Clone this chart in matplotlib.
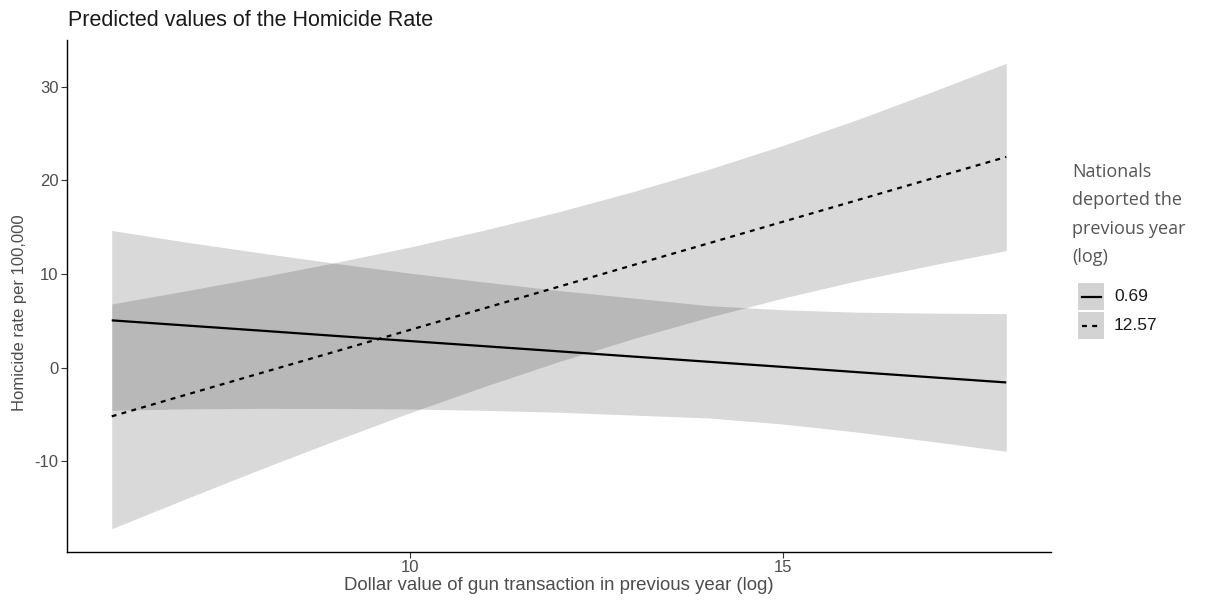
import matplotlib.pyplot as plt
from matplotlib.patches import Rectangle
from matplotlib.lines import Line2D

plt.rcParams['axes.unicode_minus'] = False

# Predictor grid (dollar value of gun transactions, log)
gun_value = [6, 7, 8, 9, 10, 11, 12, 13, 14, 15, 16, 17, 18]

# Deported nationals = 0.69 (log)
pred_low_dep = [5.05, 4.50, 3.95, 3.39, 2.84, 2.29, 1.74, 1.18, 0.63, 0.08, -0.48, -1.03, -1.58]
ci_lo_low_dep = [-4.55, -4.40, -4.35, -4.36, -4.41, -4.56, -4.76, -5.07, -5.37, -6.02, -6.88, -7.88, -8.93]
ci_hi_low_dep = [14.65, 13.40, 12.25, 11.14, 10.09, 9.14, 8.24, 7.43, 6.63, 6.18, 5.92, 5.82, 5.77]

# Deported nationals = 12.57 (log)
pred_high_dep = [-5.20, -2.89, -0.58, 1.72, 4.03, 6.34, 8.65, 10.96, 13.26, 15.57, 17.88, 20.19, 22.50]
ci_lo_high_dep = [-17.20, -13.99, -10.83, -7.78, -4.82, -2.01, 0.65, 3.11, 5.36, 7.42, 9.28, 10.94, 12.50]
ci_hi_high_dep = [6.80, 8.21, 9.67, 11.22, 12.88, 14.69, 16.65, 18.81, 21.16, 23.72, 26.48, 29.44, 32.50]

legend_labels = ['0.69', '12.57']
legend_title = ['Nationals', 'deported the', 'previous year', '(log)']
x_ticks = [10, 15]
y_ticks = [-10, 0, 10, 20, 30]

W, H = 1224, 606
fig = plt.figure(figsize=(W / 100, H / 100), dpi=100)


def fpos(px, py):
    return px / W, 1 - py / H


ax_l, ax_r, ax_t, ax_b = 67, 1051, 40, 552
ax = fig.add_axes([ax_l / W, 1 - ax_b / H, (ax_r - ax_l) / W, (ax_b - ax_t) / H])

ax.fill_between(gun_value, ci_lo_low_dep, ci_hi_low_dep, color='black', alpha=0.15, linewidth=0)
ax.fill_between(gun_value, ci_lo_high_dep, ci_hi_high_dep, color='black', alpha=0.15, linewidth=0)
ax.plot(gun_value, pred_low_dep, color='black', linewidth=1.6, solid_capstyle='butt')
ax.plot(gun_value, pred_high_dep, color='black', linewidth=1.6, linestyle=(0, (2.2, 2.4)),
        dash_capstyle='butt')

# 5% expansion around the data range
xmin, xmax = min(gun_value), max(gun_value)
ymin, ymax = min(ci_lo_high_dep + ci_lo_low_dep), max(ci_hi_high_dep + ci_hi_low_dep)
dx, dy = (xmax - xmin) * 0.05, (ymax - ymin) * 0.05
ax.set_xlim(xmin - dx, xmax + dx)
ax.set_ylim(ymin - dy, ymax + dy)

ax.set_xticks(x_ticks)
ax.set_xticklabels([str(t) for t in x_ticks])
ax.set_yticks(y_ticks)
ax.set_yticklabels([str(t) for t in y_ticks])

for side in ['top', 'right']:
    ax.spines[side].set_visible(False)
for side in ['left', 'bottom']:
    ax.spines[side].set_linewidth(1.0)
    ax.spines[side].set_color('black')

ax.tick_params(axis='both', length=4, width=0.8, color='#333333', labelcolor='#4d4d4d',
               labelsize=12, pad=2)
for lab in ax.get_xticklabels() + ax.get_yticklabels():
    lab.set_family('Liberation Sans')

fig.text(*fpos(68, 21), 'Predicted values of the Homicide Rate', ha='left', va='center',
         fontsize=15.5, color='#1a1a1a', family='Liberation Sans')
fig.text(*fpos(559, 585), 'Dollar value of gun transaction in previous year (log)',
         ha='center', va='center', fontsize=13.4, color='#4d4d4d', family='Liberation Sans')
fig.text(*fpos(20, 313), 'Homicide rate per 100,000', ha='center', va='center', rotation=90,
         fontsize=12, color='#4d4d4d', family='Liberation Sans')

# Legend
for i, line in enumerate(legend_title):
    fig.text(*fpos(1072, 172 + i * 28.5), line, ha='left', va='center', fontsize=13,
             color='#555555', family='Open Sans')

key_styles = ['-', (0, (2.2, 2.4))]
for i, (lab, ls) in enumerate(zip(legend_labels, key_styles)):
    top = 283 + i * 29
    x0, y0 = fpos(1078, top + 26.5)
    fig.patches.append(Rectangle((x0, y0), 26 / W, 26.5 / H, transform=fig.transFigure,
                                 facecolor='#d3d3d3', edgecolor='none'))
    yc = top + 13.5
    fig.lines.append(Line2D([1082 / W, 1101 / W], [1 - yc / H, 1 - yc / H],
                            transform=fig.transFigure, color='black', linewidth=1.6,
                            linestyle=ls, dash_capstyle='butt'))
    fig.text(*fpos(1114, yc), lab, ha='left', va='center', fontsize=12.5,
             color='#1a1a1a', family='Liberation Sans')

fig.savefig('out.png', dpi=100, facecolor='white')
